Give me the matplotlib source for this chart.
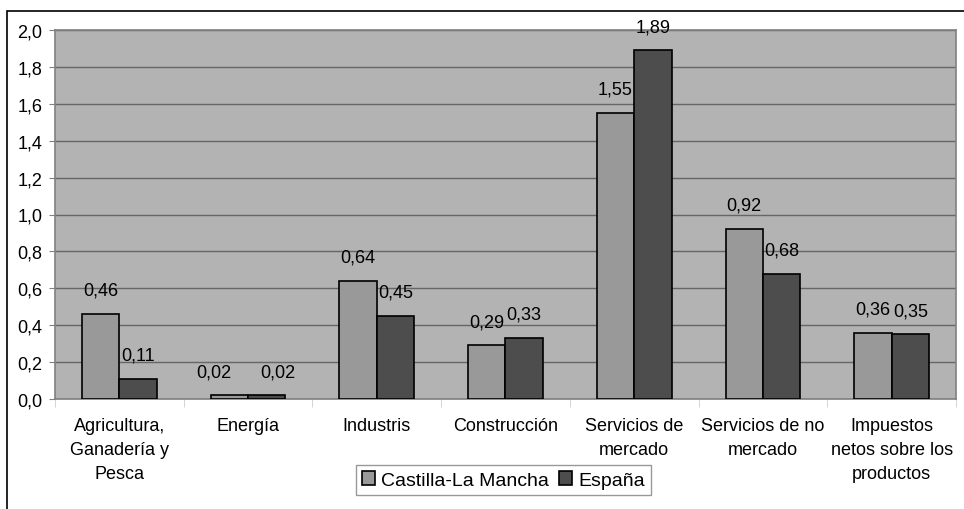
import numpy as np
import matplotlib.pyplot as plt
from matplotlib.patches import Rectangle

plt.rcParams['font.family'] = ['Liberation Sans', 'DejaVu Sans']

categorias = ['Agricultura,\nGanadería y\nPesca', 'Energía', 'Industris', 'Construcción',
              'Servicios de\nmercado', 'Servicios de no\nmercado',
              'Impuestos\nnetos sobre los\nproductos']
castilla = [0.46, 0.02, 0.64, 0.29, 1.55, 0.92, 0.36]
espana = [0.11, 0.02, 0.45, 0.33, 1.89, 0.68, 0.35]
series = ['Castilla-La Mancha', 'España']

fig = plt.figure(figsize=(9.64, 5.10), dpi=100)
# marco exterior (cortado a la derecha y abajo)
fig.patches.append(Rectangle((7/964, -0.05), 1.0, 1 - 12/510 + 0.05,
                             transform=fig.transFigure, fill=False,
                             edgecolor='black', linewidth=1.2))

ax = fig.add_axes([55/964, 1 - 400/510, 901/964, 369/510])
ax.set_facecolor('#b3b3b3')

x = np.arange(len(categorias))
w = 0.29
b1 = ax.bar(x - w/2, castilla, w, color='#999999', edgecolor='black', linewidth=1.2,
            label=series[0], zorder=3)
b2 = ax.bar(x + w/2, espana, w, color='#4d4d4d', edgecolor='black', linewidth=1.2,
            label=series[1], zorder=3)

for k, bars in enumerate((b1, b2)):
    for i, r in enumerate(bars):
        v = r.get_height()
        dx = 0
        if i == 1:  # etiquetas de Energía separadas
            dx = -11 if k == 0 else 8
        ax.annotate(('%.2f' % v).replace('.', ','), (r.get_x() + r.get_width()/2, v),
                    xytext=(dx, 11), textcoords='offset points', ha='center',
                    va='bottom', fontsize=13)

ax.set_xlim(-0.5, len(categorias) - 0.5)
ax.set_ylim(0, 2.0)
yt = np.arange(0, 2.01, 0.2)
ax.set_yticks(yt)
ax.set_yticklabels([('%.1f' % t).replace('.', ',') for t in yt], fontsize=13)
ax.yaxis.grid(True, color='#666666', linewidth=1, zorder=1)
ax.set_axisbelow(True)

ax.set_xticks(x)
ax.set_xticklabels(categorias, fontsize=13, linespacing=1.55)
ax.tick_params(axis='x', length=0, pad=13)
ax.set_xticks(np.arange(-0.5, len(categorias), 1), minor=True)
ax.tick_params(axis='x', which='minor', length=6, color='#cccccc')
ax.tick_params(axis='y', length=4, color='#808080', pad=5)

for s in ax.spines.values():
    s.set_color('#808080')
    s.set_linewidth(1.2)

leg = ax.legend(loc='upper center', bbox_to_anchor=(0.4975, -0.18), ncol=2,
                fontsize=14, frameon=True, fancybox=False, handlelength=0.7,
                handleheight=0.7, handletextpad=0.3, columnspacing=0.5,
                borderpad=0.3, borderaxespad=0)
leg.get_frame().set_edgecolor('#808080')
leg.get_frame().set_linewidth(1)

fig.savefig('out.png', dpi=100)
